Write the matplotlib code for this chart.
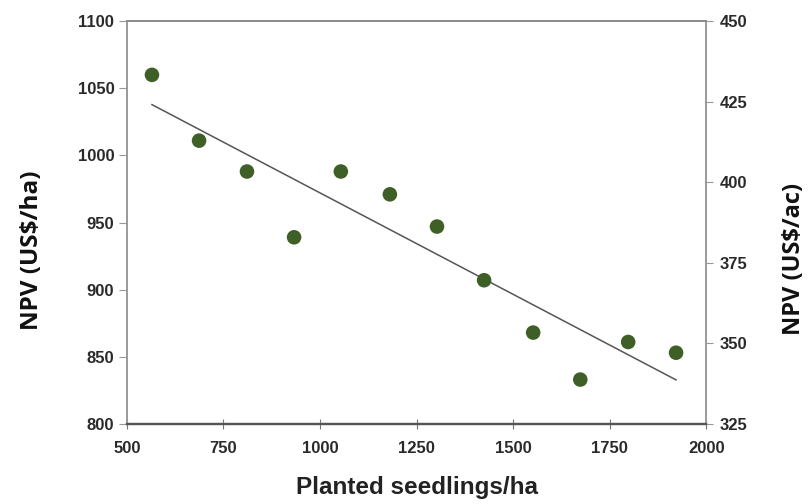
import numpy as np
import matplotlib
matplotlib.use("Agg")
import matplotlib.pyplot as plt

seedlings = [565, 687, 811, 933, 1054, 1181, 1303, 1425, 1552, 1674, 1798, 1922]
npv_ha = [1060, 1011, 988, 939, 988, 971, 947, 907, 868, 833, 861, 853]
xticks = [500, 750, 1000, 1250, 1500, 1750, 2000]
yticks_ha = [800, 850, 900, 950, 1000, 1050, 1100]
yticks_ac = [325, 350, 375, 400, 425, 450]

fig = plt.figure(figsize=(8.08, 5.04), dpi=100)
ax = fig.add_axes([0.157, 0.159, 0.717, 0.799])

x = np.array(seedlings, float)
y = np.array(npv_ha, float)
m, b = np.polyfit(x, y, 1)
xl = np.array([x.min(), x.max()])
ax.plot(xl, m * xl + b, color="#555555", lw=1.1, zorder=2)
ax.scatter(x, y, s=110, color="#3e5f25", zorder=3, edgecolors="none")

ax.set_xlim(500, 2000)
ax.set_ylim(800, 1100)
ax.set_xticks(xticks)
ax.set_yticks(yticks_ha)

ax2 = ax.twinx()
ax2.set_ylim(325, 450)
ax2.set_yticks(yticks_ac)

for a in (ax, ax2):
    for s in a.spines.values():
        s.set_color("#9a9a9a")
        s.set_linewidth(1.2)
    for lab in a.get_xticklabels() + a.get_yticklabels():
        lab.set_fontfamily("Liberation Sans")
        lab.set_fontweight("bold")
        lab.set_fontsize(12)
        lab.set_color("#2a2a2a")
for a in (ax, ax2):
    a.spines["bottom"].set_color("#555555")
    a.spines["bottom"].set_linewidth(1.6)
    a.spines["top"].set_color("#8a8a8a")

ax.tick_params(axis="x", direction="inout", length=7, color="#777777", pad=9)
ax.tick_params(axis="y", direction="out", length=6, color="#999999", pad=3)
ax2.tick_params(axis="y", direction="out", length=5, color="#999999", pad=5)

ax.set_xlabel("Planted seedlings/ha", fontfamily="Liberation Sans", fontweight="bold",
              fontsize=17.5, color="#222222", labelpad=14)
ax.set_ylabel("NPV (US$/ha)", fontfamily="Open Sans", fontweight="bold",
              fontsize=17.5, color="#111111")
ax2.set_ylabel("NPV (US$/ac)", fontfamily="Open Sans", fontweight="bold",
               fontsize=17, color="#111111")
ax.yaxis.set_label_coords(-0.143, 0.432)
ax2.yaxis.set_label_coords(1.13, 0.41)

fig.savefig("out.png", dpi=100)
